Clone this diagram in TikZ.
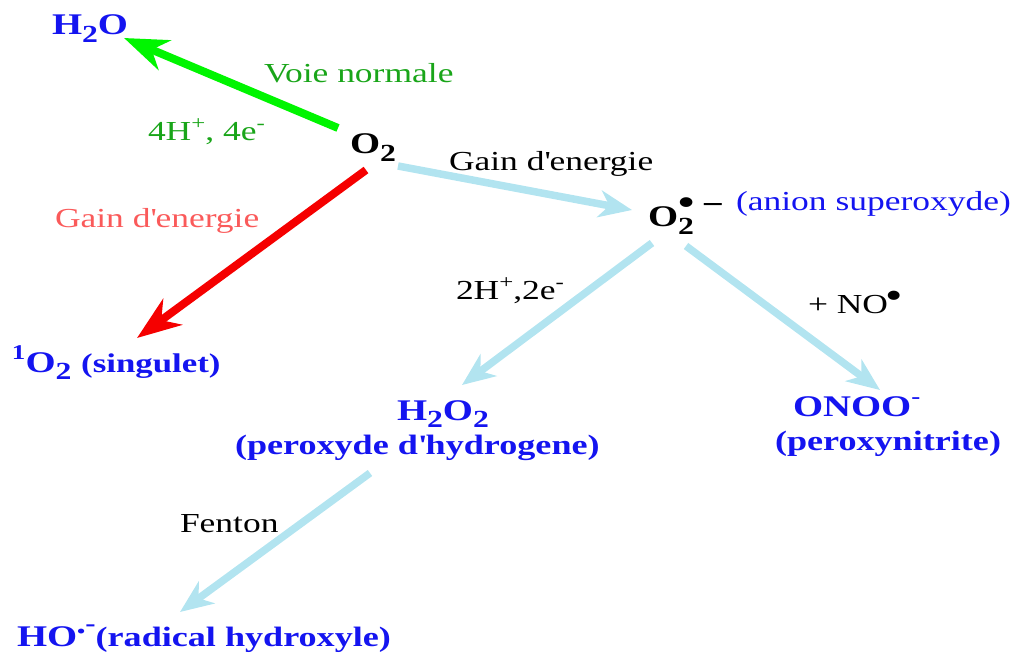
\documentclass[tikz,border=0pt]{standalone}
\usepackage{fontspec}
\setmainfont{Liberation Serif}[FakeStretch=1.29]
\usepackage{graphicx}
\usetikzlibrary{arrows.meta}
\definecolor{txtblue}{RGB}{20,20,240}
\definecolor{txtgreen}{RGB}{25,165,25}
\definecolor{arrgreen}{RGB}{0,245,0}
\definecolor{arrred}{RGB}{245,0,0}
\definecolor{txtred}{RGB}{250,90,90}
\definecolor{arrblue}{RGB}{178,228,240}
\newcommand\lowx[1]{\raisebox{-0.26em}{\scalebox{0.82}{#1}}}
\newcommand\highx[1]{\raisebox{0.42em}{\scalebox{0.7}{#1}}}
\begin{document}
\begin{tikzpicture}[x=1pt,y=-1pt,
  lbl/.style={inner sep=0pt, outer sep=0pt, anchor=base west, font=\fontsize{27.5}{30}\selectfont},
  chem/.style={lbl, text=txtblue, font=\fontsize{30}{34}\selectfont\bfseries},
  chemname/.style={lbl, text=txtblue, font=\fontsize{28}{32}\selectfont\bfseries},
  bigarrow/.style={line width=8pt, -{Stealth[length=44pt,width=32pt,inset=14pt]}},
  thinarrow/.style={line width=7.5pt, draw=arrblue, -{Stealth[length=33pt,width=27pt,inset=10pt]}},
]
\useasboundingbox (0,0) rectangle (1013,655);

\node[chem] (h2o) at (52,35) {H\lowx{2}O};
\node[lbl, text=txtgreen] (voie) at (264,83) {Voie normale};
\node[lbl, text=txtgreen] (fourh) at (148,141) {4H\highx{+}, 4e\highx{-}};
\node[chem, text=black] (o2) at (350,154) {O\lowx{2}};
\node[lbl] (gain) at (449,171) {Gain d\textquotesingle energie};
\node[lbl, text=txtred] (gainr) at (55,228) {Gain d\textquotesingle energie};
\node[chem, text=black] (o2m) at (648,227) {O\rlap{\raisebox{0.42em}{\scalebox{1.2}{•}}}\lowx{2}\hspace{8pt}\raisebox{0.4em}{−}};
\node[lbl, text=txtblue] (anion) at (736,211) {(anion superoxyde)};
\node[lbl] (twoh) at (456,300) {2H\highx{+},2e\highx{-}};
\node[lbl] (no) at (808,314) {+ NO\hspace{-3pt}\raisebox{0.2em}{\scalebox{1.4}{•}}};
\node[chem] (sing) at (12,372) {\highx{1}O\lowx{2} {\fontsize{27}{30}\selectfont(singulet)}};
\node[chem] (h2o2) at (397,420) {H\lowx{2}O\lowx{2}};
\node[chemname] (peroxyde) at (235,454) {(peroxyde d\textquotesingle hydrogene)};
\node[chem] (onoo) at (793,416) {ONOO\highx{-}};
\node[chemname] (peroxyn) at (775,450) {(peroxynitrite)};
\node[lbl] (fenton) at (180,532) {Fenton};
\node[chem] (ho) at (17,646) {HO\raisebox{0.3em}{\scalebox{0.6}{•}}\raisebox{0.5em}{\scalebox{0.8}{-}}{\fontsize{28}{32}\selectfont(radical hydroxyle)}};

\draw[bigarrow, draw=arrgreen] ([shift={(-12,-26)}]o2.base west) -- ([shift={(72,3)}]h2o.base west);
\draw[bigarrow, draw=arrred] ([shift={(16,16)}]o2.base west) -- ([shift={(125,-34)}]sing.base west);
\draw[thinarrow] ([shift={(48,12)}]o2.base west) -- ([shift={(-16,-17)}]o2m.base west);
\draw[thinarrow] ([shift={(4,16)}]o2m.base west) -- ([shift={(65,-35)}]h2o2.base west);
\draw[thinarrow] ([shift={(38,19)}]o2m.base west) -- ([shift={(87,-26)}]onoo.base west);
\draw[thinarrow] ([shift={(135,19)}]peroxyde.base west) -- ([shift={(163,-34)}]ho.base west);
\end{tikzpicture}
\end{document}
